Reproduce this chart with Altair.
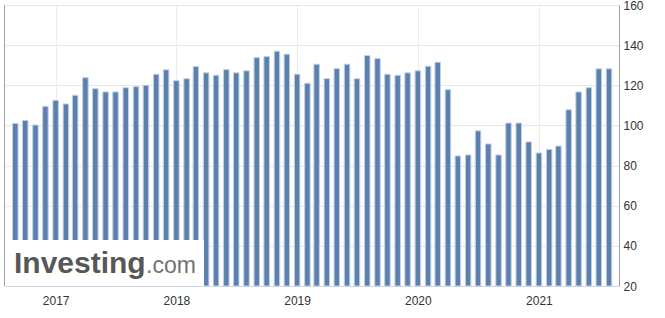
import altair as alt
import pandas as pd

months = pd.date_range("2016-09-01", "2021-08-01", freq="MS").strftime("%Y-%m-%d").tolist()
values = [
    101, 102.5, 100.2, 109.5,
    112.5, 110.7, 115, 123.8, 118.3, 116.7, 116.7, 118.8, 119.3, 120, 125.5, 127.7,
    122.3, 123.3, 129.3, 126.2, 125, 127.8, 126.2, 127.2, 133.8, 134.3, 137, 135.5,
    125.5, 121, 130.5, 123.3, 128.3, 130.5, 123.3, 134.8, 133.3, 125.5, 125, 126.2,
    127.2, 129.5, 131.5, 117.8, 84.8, 85.3, 97.3, 90.8, 85.3, 101.2, 101.2, 91.8,
    86.3, 88, 89.7, 107.8, 116.7, 118.8, 128.2, 128.2,
]
y_ticks = [20, 40, 60, 80, 100, 120, 140, 160]
x_domain = ["2016-08-16", "2021-08-16"]

df = pd.DataFrame({"date": months, "value": values})

W, H = 614, 281

bars = alt.Chart(df).mark_bar(
    size=5.5, color="#5b80ae", stroke="#c3d1e3", strokeWidth=1
).encode(
    x=alt.X("date:T",
            scale=alt.Scale(domain=x_domain),
            axis=alt.Axis(format="%Y", tickCount="year", grid=True, gridColor="#ececec",
                          domainColor="#ccd6eb", ticks=False, labelPadding=9,
                          labelFontSize=12, labelColor="#333333", title=None)),
    y=alt.Y("value:Q",
            scale=alt.Scale(domain=[20, 160], zero=False, nice=False),
            axis=alt.Axis(orient="right", values=y_ticks, grid=True, gridColor="#e6e6e6",
                          domainColor="#a0a0a0", ticks=False, labelPadding=4,
                          labelFontSize=12, labelColor="#333333", title=None)),
    y2=alt.datum(20),
)

left_line = alt.Chart(df).mark_rule(color="#a0a0a0", strokeWidth=1).encode(
    x=alt.value(-0.5), y=alt.value(0), y2=alt.value(H)
)

wm_rect = alt.Chart(df).mark_rect(fill="white", opacity=0.5).encode(
    x=alt.value(0), x2=alt.value(199), y=alt.value(235), y2=alt.value(H)
)

wm_text1 = alt.Chart(pd.DataFrame({"t": ["Investing"]})).mark_text(
    font="Liberation Sans", fontWeight="bold", fontSize=30, color="#3a3a3a",
    opacity=0.85, align="left", baseline="alphabetic"
).encode(x=alt.value(9), y=alt.value(268), text="t:N")

wm_text2 = alt.Chart(pd.DataFrame({"t": [".com"]})).mark_text(
    font="Liberation Sans", fontSize=23, color="#5a5a5a",
    opacity=0.85, align="left", baseline="alphabetic"
).encode(x=alt.value(141), y=alt.value(268), text="t:N")

chart = alt.layer(bars, left_line, wm_rect, wm_text1, wm_text2).properties(
    width=W, height=H,
    autosize=alt.AutoSizeParams(type="none"),
    padding={"left": 5, "top": 5, "right": 46, "bottom": 32},
).configure_view(stroke=None).configure_axis(labelFont="Liberation Sans")

chart.save("out.html", embed_options={"renderer": "svg", "actions": False})
